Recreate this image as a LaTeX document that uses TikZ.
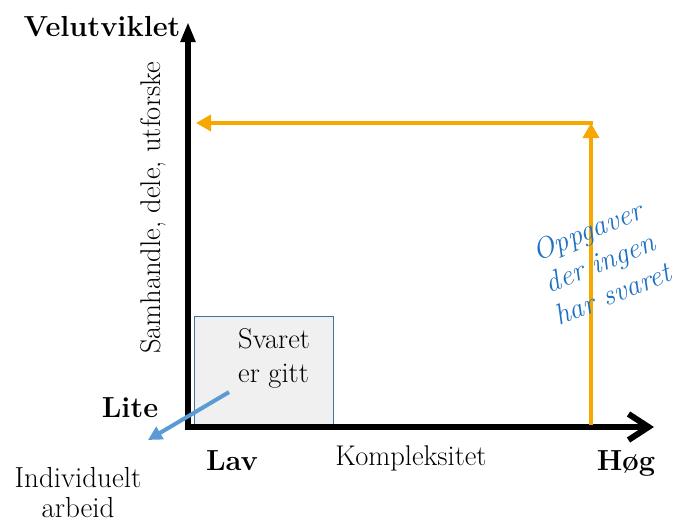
\documentclass[tikz,border=0pt]{standalone}
\usepackage{fontspec}
\usetikzlibrary{arrows.meta}
\definecolor{oransje}{RGB}{246,168,0}
\definecolor{tekstblaa}{RGB}{30,112,195}
\definecolor{pilblaa}{RGB}{91,155,213}
\definecolor{kantblaa}{RGB}{65,113,156}
\begin{document}
\begin{tikzpicture}[x=1pt,y=-1pt,
        akse/.style={line width=6pt},
        oransjepil/.style={draw=oransje, line width=3.5pt, -{Triangle[length=15pt,width=16pt]}},
        etikett/.style={inner sep=0pt, font=\fontsize{28.5}{34}\selectfont},
        fet/.style={inner sep=0pt, font=\fontsize{29}{34}\selectfont\bfseries}]
        \useasboundingbox (0,0) rectangle (683,522);
        % boksen nede i hjornet
        \node[draw=kantblaa, fill=gray!12, line width=1.2pt, minimum width=139pt, minimum height=111pt, anchor=south west] (boks) at (194,428) {};
        \node[etikett, align=left, anchor=north west] (svar) at (238,328) {Svaret\\er gitt};
        % aksene
        \coordinate (origo) at (188,430);
        \coordinate (ytopp) at (188,22);
        \coordinate (xstart) at (185,427);
        \coordinate (xslutt) at (654,427);
        \draw[akse, -{Triangle[length=20pt,width=14pt]}] (origo) -- (ytopp);
        \draw[akse, -{Straight Barb[length=20pt,width=26pt]}] (xstart) -- (xslutt);
        % oransje piler
        \coordinate (hogbunn) at (591,425);
        \coordinate (hogtopp) at (591,123);
        \coordinate (venstre) at (196,123);
        \draw[oransjepil] (hogbunn) -- (hogtopp);
        \draw[oransjepil] ([xshift=1.5pt]hogtopp) -- (venstre);
        % blaa pil
        \coordinate (pilslutt) at (148,440);
        \draw[pilblaa, line width=4pt, -{Triangle[length=14pt,width=14pt]}] ([xshift=-9pt,yshift=-4pt]svar.south west) -- (pilslutt);
        % tekster
        \node[fet, anchor=base] (velutviklet) at (102,36) {Velutviklet};
        \node[etikett, rotate=90, anchor=base] (samhandle) at (160,208) {Samhandle, dele, utforske};
        \node[fet, anchor=base] (lite) at (130,417) {Lite};
        \node[fet, anchor=base] (lav) at (232,470) {Lav};
        \node[etikett, anchor=base] (kompleksitet) at (411,465) {Kompleksitet};
        \node[fet, anchor=base] (hog) at (626,470) {Høg};
        \node[inner sep=0pt, font=\fontsize{29}{30}\selectfont, align=center, anchor=north] (individuelt) at (78,467) {Individuelt\\arbeid};
        \node[inner sep=0pt, text=tekstblaa, font=\fontsize{29}{34}\selectfont\itshape, align=center, rotate=22] (oppgaver) at (600,262) {Oppgaver\\der ingen\\har svaret};
\end{tikzpicture}
\end{document}
